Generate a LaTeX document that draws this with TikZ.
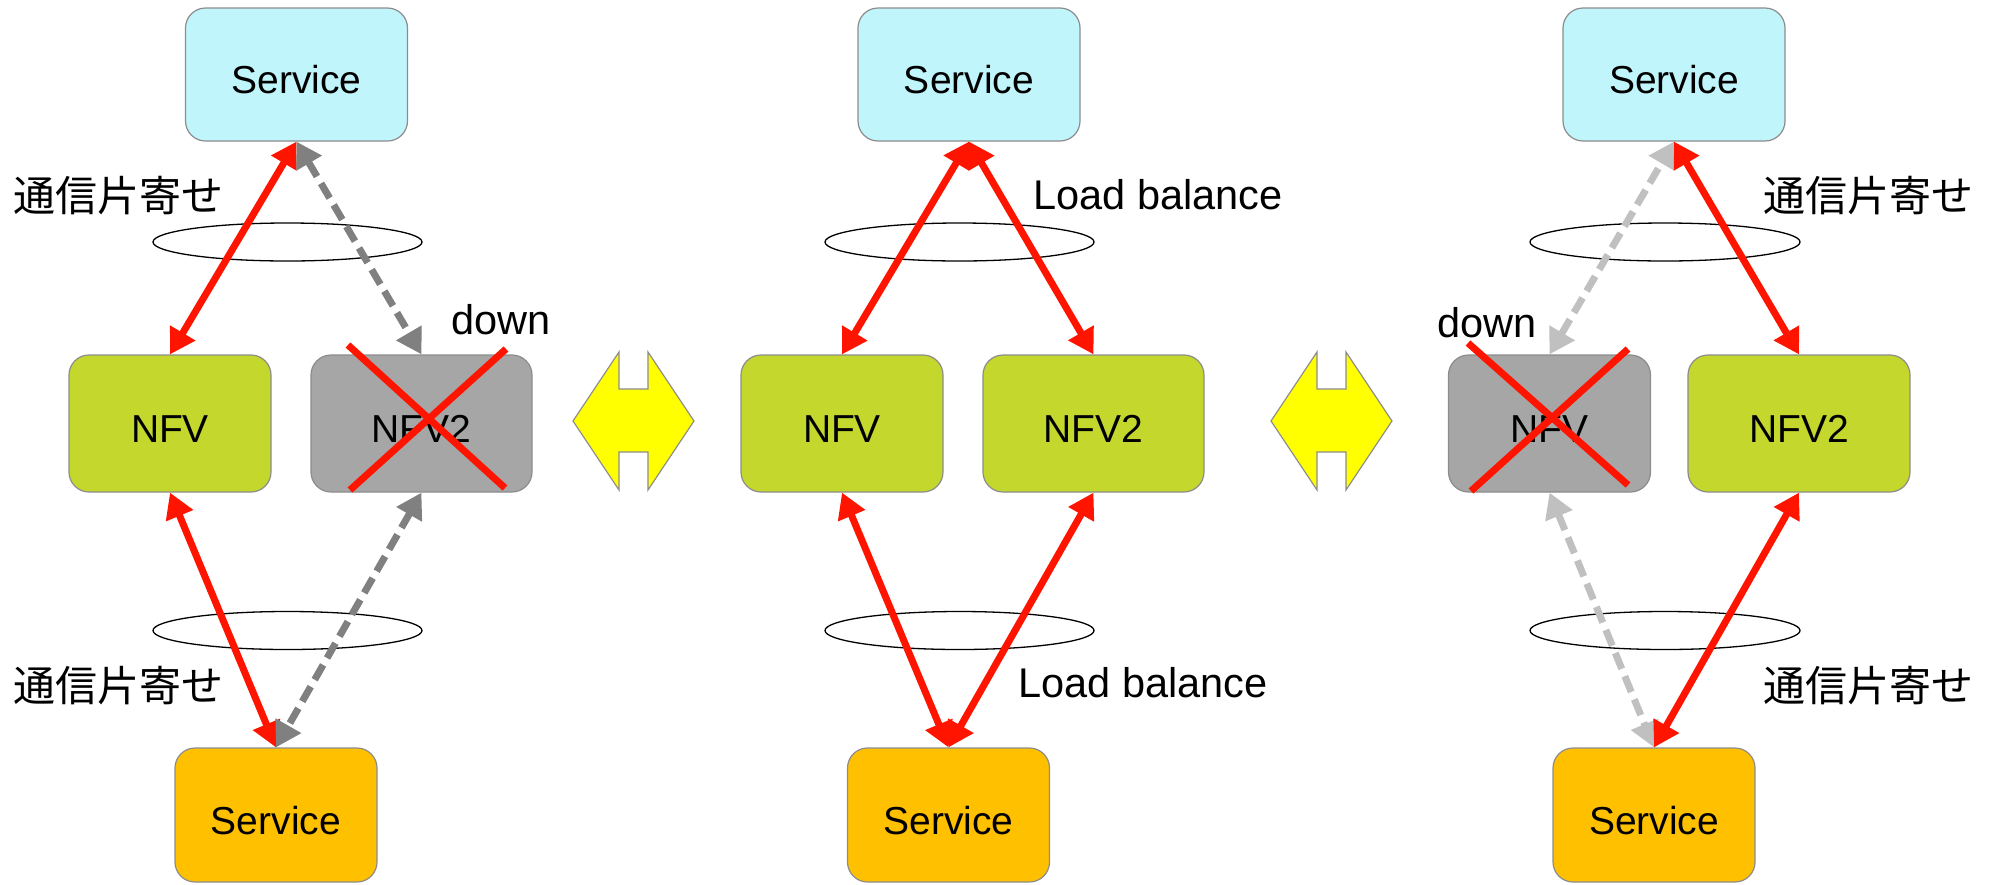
\documentclass[tikz,border=0pt]{standalone}
\usepackage{fontspec}
\setmainfont{Liberation Sans}
\newfontfamily\jpfont{Noto Sans CJK JP}
\usetikzlibrary{arrows.meta,shapes.geometric}
\definecolor{cyanfill}{RGB}{192,245,252}
\definecolor{greenfill}{RGB}{196,215,44}
\definecolor{grayfill}{RGB}{166,166,166}
\definecolor{orangefill}{RGB}{255,192,0}
\definecolor{linkred}{RGB}{255,20,0}
\definecolor{boxline}{RGB}{140,140,140}
\definecolor{darkdash}{RGB}{128,128,128}
\definecolor{lightdash}{RGB}{192,192,192}
\definecolor{yellowfill}{RGB}{255,255,0}
\begin{document}
\begin{tikzpicture}[x=1pt,y=-1pt,
  box/.style={draw=boxline, line width=1.2pt, rounded corners=20pt, inner sep=0pt,
    text height=38pt, text depth=0pt, font=\fontsize{39}{45}\selectfont},
  svctop/.style={box, fill=cyanfill, minimum width=222pt, minimum height=133pt},
  svcbot/.style={box, fill=orangefill, minimum width=202pt, minimum height=134pt},
  nfvok/.style={box, fill=greenfill, minimum height=137pt},
  nfvdown/.style={box, fill=grayfill, minimum height=137pt},
  ring/.style={ellipse, draw=black, line width=1.3pt, minimum width=269pt, minimum height=38pt, inner sep=0pt},
  lbl/.style={inner sep=0pt, font=\fontsize{41.5}{48}\selectfont},
  jlbl/.style={inner sep=0pt, font=\jpfont\fontsize{42}{48}\selectfont},
  redlink/.style={draw=linkred, line width=7pt, {Triangle[length=25pt,width=28pt]}-{Triangle[length=25pt,width=28pt]}},
  deadlink/.style={line width=7pt, dash pattern=on 17pt off 8pt, {Triangle[length=25pt,width=28pt]}-{Triangle[length=25pt,width=28pt]}},
  crossline/.style={draw=linkred, line width=7pt},
  swap/.style={fill=yellowfill, draw=boxline, line width=1.2pt}
]
\useasboundingbox (0,0) rectangle (1993,884);

% ---------- panel 1 ----------
\node[svctop] (s1t) at (296.5,74.5) {Service};
\node[nfvok, minimum width=202pt] (n1a) at (170,423.5) {NFV};
\node[nfvdown, minimum width=221pt] (n1b) at (421.5,423.5) {NFV2};
\node[svcbot] (s1b) at (276,815) {Service};
\node[ring] (e1t) at (287.5,242) {};
\node[ring] (e1b) at (287.5,630.5) {};
\draw[redlink] (n1a.north) -- (s1t.south);
\draw[deadlink, draw=darkdash] (s1t.south) -- (n1b.north);
\draw[redlink] (n1a.south) -- (s1b.north);
\draw[deadlink, draw=darkdash] (n1b.south) -- (s1b.north);
\draw[crossline] ([shift={(-73.5,-78.5)}]n1b.center) -- ([shift={(83.5,64.5)}]n1b.center);
\draw[crossline] ([shift={(84.5,-74.5)}]n1b.center) -- ([shift={(-71.5,66.5)}]n1b.center);
\node[jlbl] (l1t) at (118,196) {通信片寄せ};
\node[jlbl] (l1b) at (118,686) {通信片寄せ};
\node[lbl] (d1) at (501,320) {down};

% ---------- swap arrow 1 ----------
\coordinate (y1) at (573,421);
\draw[swap] (y1) -- ++(46,-69) -- ++(0,37) -- ++(29,0) -- ++(0,-37) -- ++(46,69)
  -- ++(-46,69) -- ++(0,-38) -- ++(-29,0) -- ++(0,38) -- cycle;

% ---------- panel 2 ----------
\node[svctop] (s2t) at (969,74.5) {Service};
\node[nfvok, minimum width=202pt] (n2a) at (842,423.5) {NFV};
\node[nfvok, minimum width=221pt] (n2b) at (1093.5,423.5) {NFV2};
\node[svcbot] (s2b) at (948.5,815) {Service};
\node[ring] (e2t) at (959.5,242) {};
\node[ring] (e2b) at (959.5,630.5) {};
\draw[redlink] (n2a.north) -- (s2t.south);
\draw[redlink] (s2t.south) -- (n2b.north);
\draw[redlink] (n2a.south) -- (s2b.north);
\draw[redlink] (n2b.south) -- (s2b.north);
\node[lbl] (lb2t) at (1158,195) {Load balance};
\node[lbl] (lb2b) at (1143,683) {Load balance};

% ---------- swap arrow 2 ----------
\coordinate (y2) at (1271,421);
\draw[swap] (y2) -- ++(46,-69) -- ++(0,37) -- ++(29,0) -- ++(0,-37) -- ++(46,69)
  -- ++(-46,69) -- ++(0,-38) -- ++(-29,0) -- ++(0,38) -- cycle;

% ---------- panel 3 ----------
\node[svctop] (s3t) at (1674,74.5) {Service};
\node[nfvdown, minimum width=202pt] (n3a) at (1549.5,423.5) {NFV};
\node[nfvok, minimum width=222pt] (n3b) at (1799,423.5) {NFV2};
\node[svcbot] (s3b) at (1654,815) {Service};
\node[ring, minimum width=270pt] (e3t) at (1665,242) {};
\node[ring, minimum width=270pt] (e3b) at (1665,630.5) {};
\draw[deadlink, draw=lightdash] (n3a.north) -- (s3t.south);
\draw[redlink] (s3t.south) -- (n3b.north);
\draw[deadlink, draw=lightdash] (n3a.south) -- (s3b.north);
\draw[redlink] (n3b.south) -- (s3b.north);
\draw[crossline] ([shift={(-81.5,-80.5)}]n3a.center) -- ([shift={(78.5,61.5)}]n3a.center);
\draw[crossline] ([shift={(78.5,-74.5)}]n3a.center) -- ([shift={(-78.5,67.5)}]n3a.center);
\node[jlbl] (l3t) at (1868,196) {通信片寄せ};
\node[jlbl] (l3b) at (1868,686) {通信片寄せ};
\node[lbl] (d3) at (1487,323) {down};
\end{tikzpicture}
\end{document}
